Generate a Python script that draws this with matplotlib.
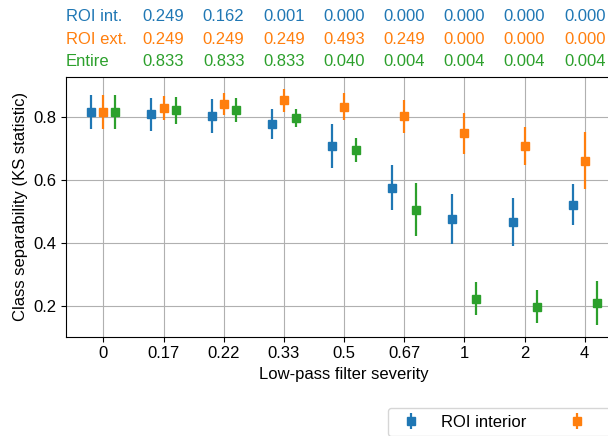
import numpy as np
import matplotlib
matplotlib.use("Agg")
import matplotlib.pyplot as plt
import matplotlib.transforms as mtransforms

plt.rcParams["font.family"] = ["Liberation Sans", "DejaVu Sans"]
plt.rcParams["font.size"] = 12

severity = ["0", "0.17", "0.22", "0.33", "0.5", "0.67", "1", "2", "4"]

roi_int = [0.815, 0.808, 0.802, 0.777, 0.706, 0.575, 0.476, 0.466, 0.521]
roi_int_err = [0.055, 0.052, 0.055, 0.048, 0.070, 0.071, 0.080, 0.076, 0.065]
roi_ext = [0.815, 0.828, 0.840, 0.852, 0.831, 0.801, 0.747, 0.706, 0.660]
roi_ext_err = [0.055, 0.039, 0.036, 0.036, 0.043, 0.052, 0.065, 0.060, 0.090]
entire = [0.815, 0.821, 0.821, 0.795, 0.695, 0.505, 0.223, 0.197, 0.210]
entire_err = [0.055, 0.043, 0.037, 0.029, 0.038, 0.084, 0.052, 0.053, 0.070]

# p-values vs. no filtering (one per severity > 0)
p_int = ["0.249", "0.162", "0.001", "0.000", "0.000", "0.000", "0.000", "0.000"]
p_ext = ["0.249", "0.249", "0.249", "0.493", "0.249", "0.000", "0.000", "0.000"]
p_entire = ["0.833", "0.833", "0.833", "0.040", "0.004", "0.004", "0.004", "0.004"]

series = [
    ("ROI interior", "ROI int.", roi_int, roi_int_err, p_int, "C0", -0.2),
    ("ROI exterior", "ROI ext.", roi_ext, roi_ext_err, p_ext, "C1", 0.0),
    ("Entire image", "Entire", entire, entire_err, p_entire, "C2", 0.2),
]

fig = plt.figure(figsize=(6.08, 4.36), dpi=100)
ax = fig.add_axes([0.1086, 0.2278, 0.9145, 0.5956])

x = np.arange(len(severity))
row_y = [0.962, 0.910, 0.858]
trans = mtransforms.blended_transform_factory(ax.transData, fig.transFigure)
trans_lab = mtransforms.blended_transform_factory(ax.transAxes, fig.transFigure)

for (label, short, vals, errs, pvals, col, off), ry in zip(series, row_y):
    ax.errorbar(x + off, vals, yerr=errs, fmt="s", color=col, ms=6,
                elinewidth=1.6, capsize=0, label=label)
    fig.text(0.0, ry, short, color=col, ha="left", va="center",
             transform=trans_lab)
    for i, p in enumerate(pvals):
        fig.text(x[i + 1], ry, p, color=col, ha="center", va="center",
                 transform=trans)

ax.set_xticks(x)
ax.set_xticklabels(severity)
ax.set_xlim(-0.62, 8.62)
ax.set_ylim(0.102, 0.926)
ax.set_yticks([0.2, 0.4, 0.6, 0.8])
ax.grid(True)
ax.set_axisbelow(True)
ax.set_xlabel("Low-pass filter severity")
ax.set_ylabel("Class separability (KS statistic)")

ax.legend(loc="upper left", bbox_to_anchor=(388 / 608, 1 - 408 / 436),
          bbox_transform=fig.transFigure, borderaxespad=0, ncol=3)

fig.savefig("out.png", dpi=100)
